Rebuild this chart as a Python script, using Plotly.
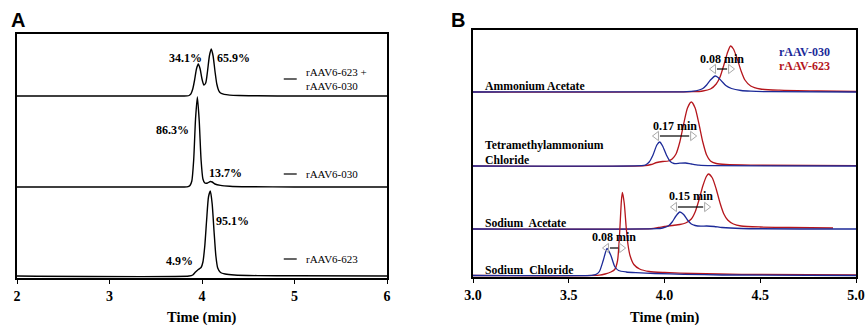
import plotly.graph_objects as go

# ---------------- Panel A data (time in min, signal in arbitrary units) ----------------
a_mix_t = [2.0, 3.80, 3.84, 3.86, 3.88, 3.90, 3.92, 3.94, 3.96, 3.98, 4.00, 4.02, 4.04, 4.06,
           4.08, 4.10, 4.12, 4.14, 4.16, 4.18, 4.20, 4.24, 4.30, 4.40, 4.60, 5.00, 6.0]
a_mix_y = [0, 0, 0.1, 0.5, 2.2, 7, 16, 27, 32, 27, 17, 11, 13, 25,
           40, 47, 40, 25, 12, 5.5, 3, 1.6, 0.9, 0.5, 0.2, 0, 0]

a_030_t = [2.0, 3.80, 3.85, 3.87, 3.89, 3.91, 3.93, 3.95, 3.97, 3.99, 4.01, 4.03, 4.06,
           4.09, 4.11, 4.14, 4.20, 4.30, 4.50, 5.00, 6.0]
a_030_y = [0, 0, 0.3, 1.5, 6, 27, 68, 90, 66, 27, 8, 4, 4,
           5.5, 5, 3, 1.6, 0.8, 0.3, 0, 0]

a_623_t = [2.0, 3.86, 3.90, 3.93, 3.96, 3.99, 4.01, 4.03, 4.05, 4.07, 4.09, 4.11, 4.13,
           4.15, 4.17, 4.20, 4.25, 4.35, 4.60, 5.00, 6.0]
a_623_y = [0, 0, 1, 4, 6.5, 8.5, 14, 30, 56, 79, 85, 72, 45,
           20, 8, 3.5, 2, 1, 0.4, 0.2, 0]

a_labels = ["rAAV6-623 +<br>rAAV6-030", "rAAV6-030", "rAAV6-623"]
a_pct_text = ["34.1%", "65.9%", "86.3%", "13.7%", "95.1%", "4.9%"]
a_pct_x = [3.821, 4.341, 3.680, 4.255, 4.331, 3.756]
a_pct_y = [220, 220, 148, 105, 57, 17]
a_ticks = [2, 3, 4, 5, 6]

# ---------------- Panel B data ----------------
b_aa_blue_t = [3.0, 4.10, 4.15, 4.18, 4.20, 4.22, 4.24, 4.265, 4.28, 4.30, 4.32, 4.35, 4.40, 4.45, 4.55, 5.0]
b_aa_blue_y = [0, 0.2, 0.8, 2, 3.5, 7, 12, 16, 14.5, 10.5, 6.5, 3.5, 1.5, 0.8, 0.3, 0]
b_aa_red_t = [3.0, 4.15, 4.20, 4.24, 4.27, 4.29, 4.31, 4.33, 4.345, 4.36, 4.38, 4.40, 4.42,
              4.45, 4.50, 4.60, 4.80, 5.0]
b_aa_red_y = [0, 0.3, 1, 3, 8, 15, 27, 40, 46, 43, 33, 21, 12, 6, 3, 1.8, 1, 0.5]

b_tma_blue_t = [3.0, 3.88, 3.90, 3.92, 3.94, 3.96, 3.975, 3.99, 4.01, 4.03, 4.05, 4.08, 4.11,
                4.14, 4.18, 4.25, 5.0]
b_tma_blue_y = [0, 0.3, 1, 4, 11, 21, 24, 20, 11, 4.5, 2.5, 2.8, 3, 2, 0.8, 0.3, 0]
b_tma_red_t = [3.0, 3.90, 3.93, 3.96, 3.99, 4.02, 4.04, 4.06, 4.08, 4.10, 4.12, 4.14, 4.16,
               4.18, 4.20, 4.22, 4.24, 4.27, 4.32, 4.45, 5.0]
b_tma_red_y = [0, 0.3, 1.5, 3.5, 4.5, 5, 7, 12, 24, 42, 58, 64, 58, 42, 24, 11, 5, 2.5, 1.5, 0.8, 0.3]

b_sa_blue_t = [3.0, 3.96, 3.99, 4.02, 4.04, 4.06, 4.08, 4.10, 4.12, 4.14, 4.16, 4.19, 4.22,
               4.26, 4.30, 4.40, 5.0]
b_sa_blue_y = [0, 0.3, 1, 3, 7, 13, 17, 14.5, 9, 5, 3.5, 2.8, 3, 2.5, 1.5, 0.5, 0]
b_sa_red_t = [3.0, 3.93, 3.97, 4.00, 4.04, 4.08, 4.11, 4.14, 4.16, 4.18, 4.20, 4.22, 4.23,
              4.25, 4.27, 4.29, 4.31, 4.33, 4.36, 4.40, 4.50, 4.65, 4.88]
b_sa_red_y = [0, 0.3, 1.5, 2.5, 3.5, 4.5, 6, 10, 17, 29, 43, 53, 55, 51, 40, 26, 15, 9, 5,
              3, 2, 1.5, 1]

b_sc_blue_t = [3.0, 3.62, 3.64, 3.66, 3.68, 3.70, 3.72, 3.74, 3.76, 3.80, 3.85, 3.95, 4.10, 4.30, 5.0]
b_sc_blue_y = [0, 0.2, 0.8, 4, 15, 27, 20, 9, 5, 3.5, 2.8, 2, 1.2, 0.5, 0]
b_sc_red_t = [3.0, 3.66, 3.69, 3.72, 3.74, 3.755, 3.765, 3.775, 3.78, 3.79, 3.80, 3.81, 3.82,
              3.84, 3.87, 3.92, 4.00, 4.15, 4.40, 5.0]
b_sc_red_y = [0, 0.3, 1.5, 3.5, 6, 15, 40, 75, 83, 72, 48, 30, 20, 11, 6.5, 4, 3, 2, 1.2, 0.5]

b_names = ["Ammonium Acetate", "Tetramethylammonium<br>Chloride",
           "Sodium\u00a0 Acetate", "Sodium\u00a0 Chloride"]
b_shift_text = ["0.08 min", "0.17 min", "0.15 min", "0.08 min"]
b_arrow_from = [4.238, 3.940, 4.034, 3.679]
b_arrow_to = [4.363, 4.165, 4.238, 3.794]
b_ticks = [3.0, 3.5, 4.0, 4.5, 5.0]
b_tick_text = ["3.0", "3.5", "4.0", "4.5", "5.0"]

# ---------------- layout constants ----------------
A_OFFSETS = [182, 91, 2]
B_OFFSETS = [185, 111, 48, 1.5]
BLUE = "#1c2a98"
RED = "#b5161c"
SERIF = "Liberation Serif"
SANS = "Liberation Sans"
HEAD = 0.018   # arrow-head half length in min (panel B scale)

fig = go.Figure()

a_series = [(a_mix_t, a_mix_y), (a_030_t, a_030_y), (a_623_t, a_623_y)]
for (t, y), off in zip(a_series, A_OFFSETS):
    fig.add_trace(go.Scatter(x=t, y=[v + off for v in y], mode="lines",
                             line=dict(color="black", width=1.4, shape="spline", smoothing=0.6),
                             xaxis="x", yaxis="y", showlegend=False, hoverinfo="skip"))

b_series = [
    ((b_aa_blue_t, b_aa_blue_y), (b_aa_red_t, b_aa_red_y)),
    ((b_tma_blue_t, b_tma_blue_y), (b_tma_red_t, b_tma_red_y)),
    ((b_sa_blue_t, b_sa_blue_y), (b_sa_red_t, b_sa_red_y)),
    ((b_sc_blue_t, b_sc_blue_y), (b_sc_red_t, b_sc_red_y)),
]
for ((bt, by), (rt, ry)), off in zip(b_series, B_OFFSETS):
    fig.add_trace(go.Scatter(x=rt, y=[v + off for v in ry], mode="lines",
                             line=dict(color=RED, width=1.3, shape="spline", smoothing=0.6),
                             xaxis="x2", yaxis="y2", showlegend=False, hoverinfo="skip"))
    fig.add_trace(go.Scatter(x=bt, y=[v + off for v in by], mode="lines",
                             line=dict(color=BLUE, width=1.3, shape="spline", smoothing=0.6),
                             xaxis="x2", yaxis="y2", showlegend=False, hoverinfo="skip"))

ann = []
shapes = []

# Panel A percent labels
for txt, x, y in zip(a_pct_text, a_pct_x, a_pct_y):
    ann.append(dict(x=x, y=y, xref="x", yref="y", text="<b>" + txt + "</b>", showarrow=False,
                    font=dict(family=SERIF, size=12, color="black"), xanchor="center", yanchor="middle"))

# Panel A legends
a_leg_y = [199, 104, 19]
for lab, ly in zip(a_labels, a_leg_y):
    shapes.append(dict(type="line", xref="x", yref="y", x0=4.884, x1=5.024, y0=ly, y1=ly,
                       line=dict(color="black", width=1.2)))
    ann.append(dict(x=5.10, y=ly, xref="x", yref="y", text=lab, showarrow=False, align="left",
                    font=dict(family=SERIF, size=11, color="black"), xanchor="left", yanchor="middle"))

# Panel B names
b_name_y = [191, 124, 54, 7]
for nm, ny in zip(b_names, b_name_y):
    ann.append(dict(x=3.052, y=ny, xref="x2", yref="y2", text="<b>" + nm.replace("<br>", "</b><br><b>") + "</b>",
                    showarrow=False, align="left",
                    font=dict(family=SERIF, size=11.7, color="black"), xanchor="left", yanchor="middle"))

# Panel B shift arrows: hollow grey heads + black shaft
b_arrow_y = [208, 141, 70, 29]
b_text_y = [218, 151, 81, 40]
for txt, x0, x1, ay, ty in zip(b_shift_text, b_arrow_from, b_arrow_to, b_arrow_y, b_text_y):
    shapes.append(dict(type="line", xref="x2", yref="y2", x0=x0 + 2 * HEAD, x1=x1 - 2 * HEAD,
                       y0=ay, y1=ay, line=dict(color="black", width=1.2)))
    fig.add_trace(go.Scatter(x=[x0 + HEAD, x1 - HEAD], y=[ay, ay], mode="markers",
                             marker=dict(symbol=["triangle-left-open", "triangle-right-open"],
                                         size=8, color="#a8a8a8", line=dict(width=1, color="#a8a8a8")),
                             xaxis="x2", yaxis="y2", showlegend=False, hoverinfo="skip"))
    ann.append(dict(x=(x0 + x1) / 2, y=ty, xref="x2", yref="y2", text="<b>" + txt + "</b>",
                    showarrow=False, font=dict(family=SERIF, size=12, color="black"),
                    xanchor="center", yanchor="middle"))

# Panel B legend
ann.append(dict(x=4.587, y=225, xref="x2", yref="y2", text="<b>rAAV-030</b>", showarrow=False,
                font=dict(family=SERIF, size=12, color=BLUE), xanchor="left", yanchor="middle"))
ann.append(dict(x=4.587, y=211, xref="x2", yref="y2", text="<b>rAAV-623</b>", showarrow=False,
                font=dict(family=SERIF, size=12, color=RED), xanchor="left", yanchor="middle"))

# Panel letters
ann.append(dict(x=9 / 865, y=1 - 20 / 325, xref="paper", yref="paper", text="<b>A</b>", showarrow=False,
                font=dict(family=SANS, size=20, color="black"), xanchor="left", yanchor="middle"))
ann.append(dict(x=449 / 865, y=1 - 20 / 325, xref="paper", yref="paper", text="<b>B</b>", showarrow=False,
                font=dict(family=SANS, size=20, color="black"), xanchor="left", yanchor="middle"))

# Axis titles
ann.append(dict(x=(17 + 387) / 2 / 865, y=1 - 317 / 325, xref="paper", yref="paper",
                text="<b>Time (min)</b>", showarrow=False,
                font=dict(family=SERIF, size=14.5, color="black"), xanchor="center", yanchor="middle"))
ann.append(dict(x=(473 + 856) / 2 / 865, y=1 - 317 / 325, xref="paper", yref="paper",
                text="<b>Time (min)</b>", showarrow=False,
                font=dict(family=SERIF, size=14.5, color="black"), xanchor="center", yanchor="middle"))

xcommon = dict(showgrid=False, zeroline=False, showline=True, linecolor="black", linewidth=1.5,
               mirror=True, ticks="outside", ticklen=4, tickwidth=1.2, tickcolor="black",
               automargin=False, tickfont=dict(family=SERIF, size=14, color="black"))
ycommon = dict(showgrid=False, zeroline=False, showline=True, linecolor="black", linewidth=1.5,
               mirror=True, showticklabels=False, ticks="", automargin=False)

fig.update_layout(
    template="none",
    width=865, height=325,
    margin=dict(l=0, r=0, t=0, b=0, pad=0),
    paper_bgcolor="white", plot_bgcolor="white",
    font=dict(family=SERIF),
    xaxis=dict(domain=[17 / 865, 387 / 865], range=[2, 6], tickvals=a_ticks,
               ticktext=["<b>%d</b>" % v for v in a_ticks], anchor="y", **xcommon),
    yaxis=dict(domain=[47 / 325, 291 / 325], range=[0, 244], anchor="x", **ycommon),
    xaxis2=dict(domain=[473 / 865, 856 / 865], range=[3, 5], tickvals=b_ticks,
                ticktext=["<b>%s</b>" % s for s in b_tick_text], anchor="y2", **xcommon),
    yaxis2=dict(domain=[48 / 325, 295 / 325], range=[0, 247], anchor="x2", **ycommon),
    annotations=ann, shapes=shapes,
)

fig.write_html("out.html")
